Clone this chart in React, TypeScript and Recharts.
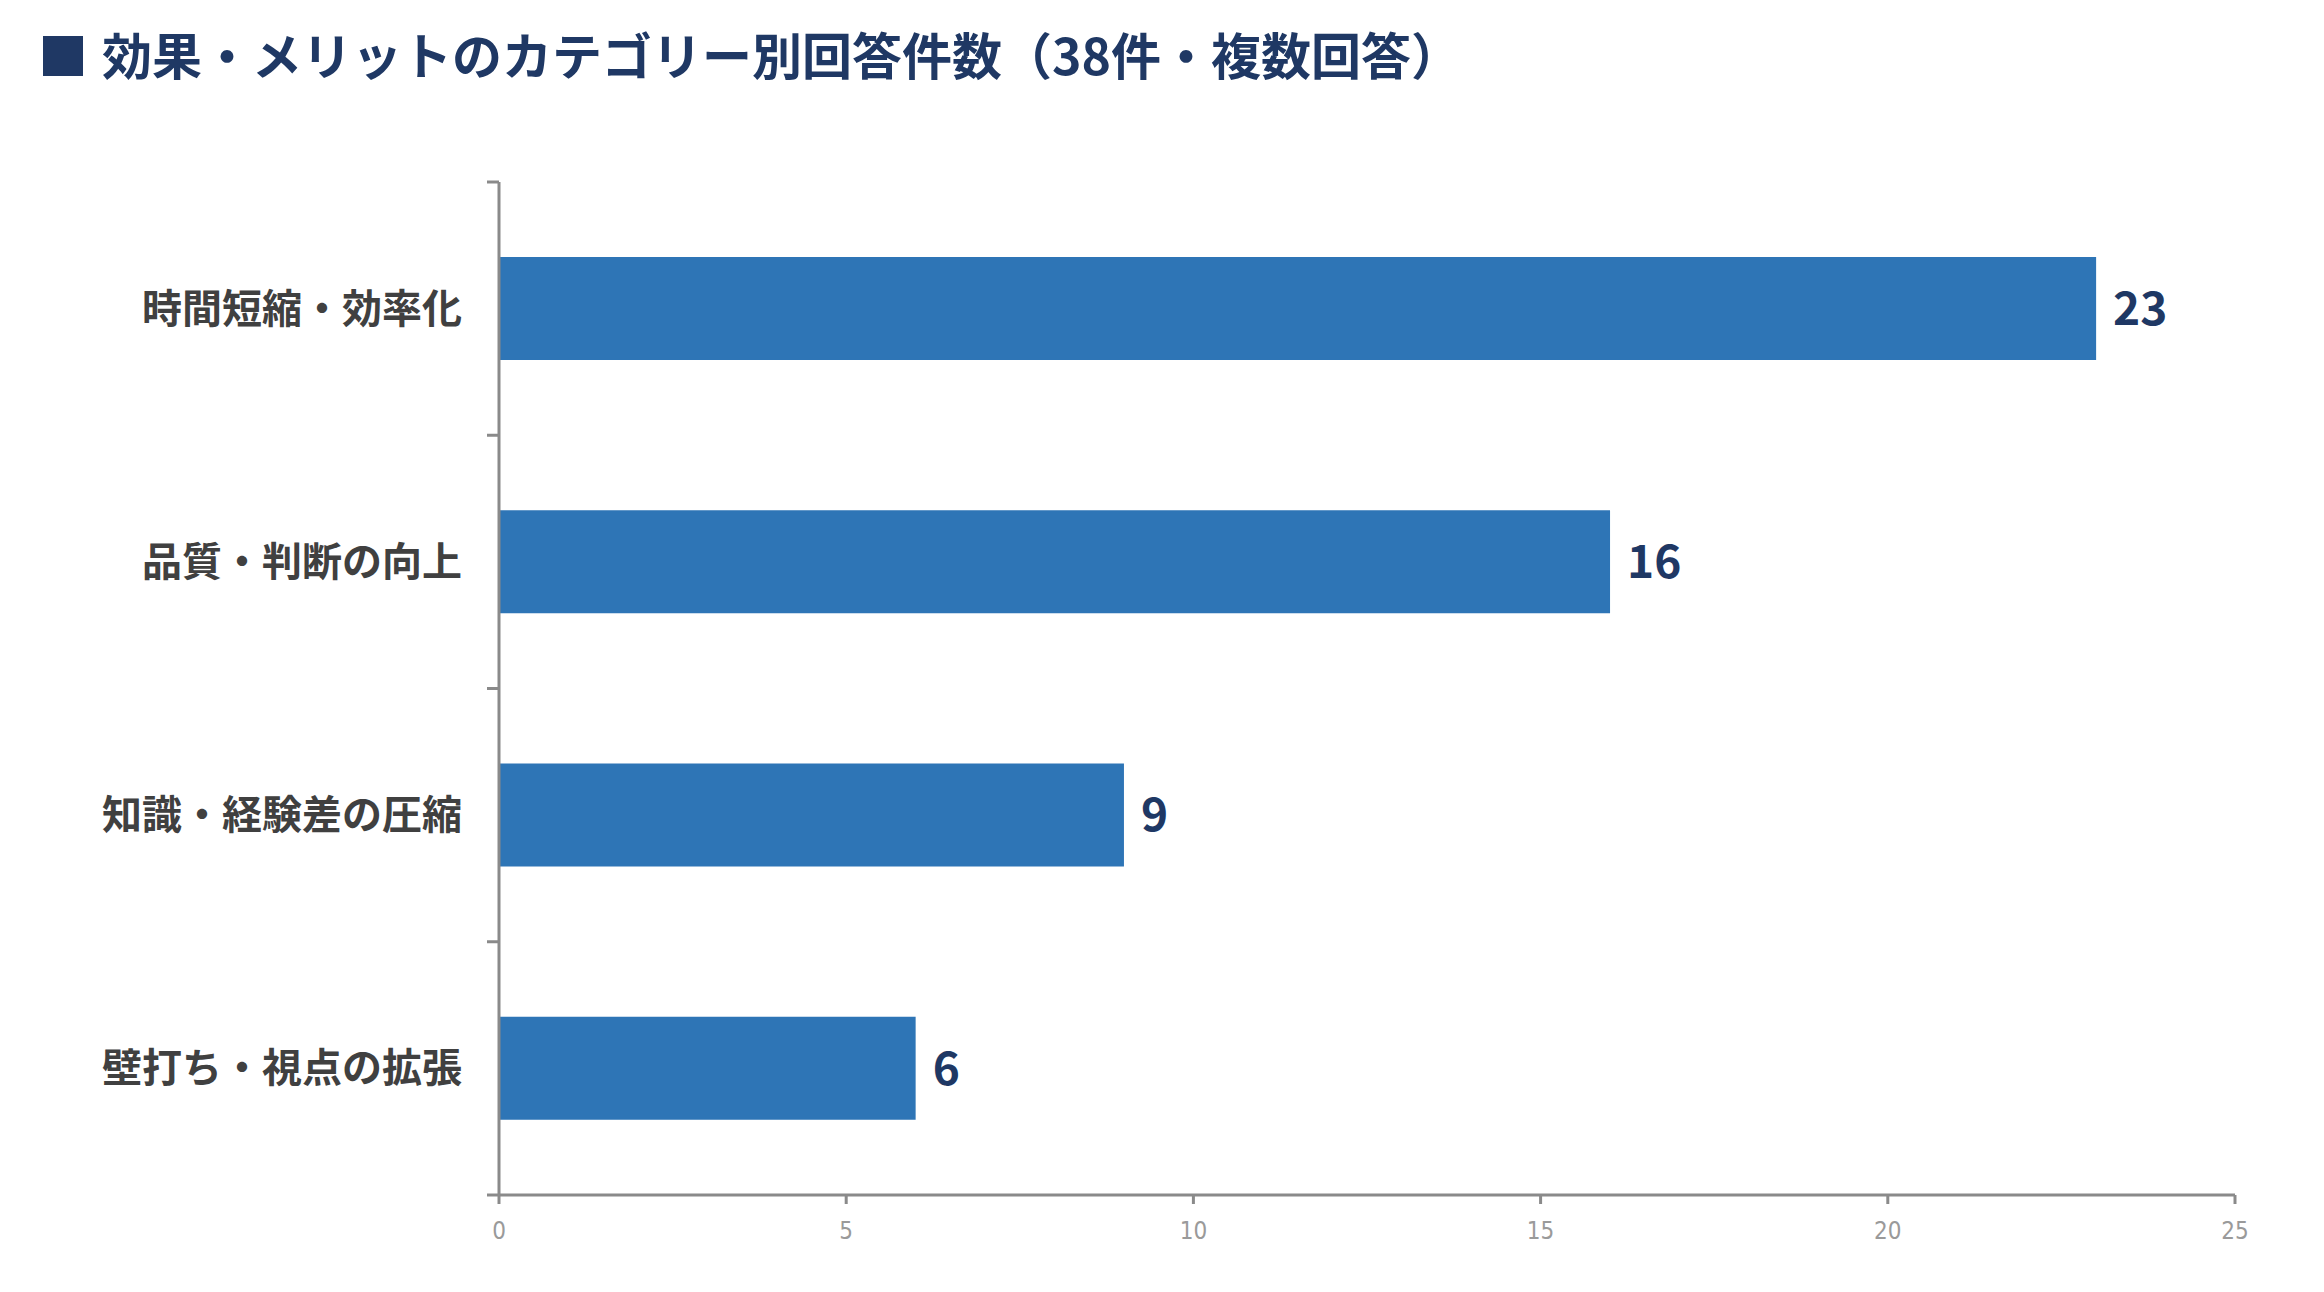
import React from 'react';
import { BarChart, Bar, XAxis, YAxis, LabelList } from 'recharts';

const categories = ['時間短縮・効率化', '品質・判断の向上', '知識・経験差の圧縮', '壁打ち・視点の拡張'];
const counts = [23, 16, 9, 6];
const xTicks = [0, 5, 10, 15, 20, 25];
const titleText = '効果・メリットのカテゴリー別回答件数（38件・複数回答）';

const data = categories.map((name, i) => ({ name, value: counts[i] }));

const W = 2324;
const H = 1292;
const MARGIN = { top: 182, right: 89, bottom: 0, left: 0 };
const Y_AXIS_W = 499;
const X_AXIS_H = 97;
const PLOT_H = H - MARGIN.top - MARGIN.bottom - X_AXIS_H;
const BAND = PLOT_H / categories.length;
const Y_TICK_LEN = 12;
const Y_TICK_MARGIN = 25;
const AXIS_COLOR = '#8a8a8a';
const FONT = "'Noto Sans CJK JP', 'Noto Sans', sans-serif";

function YTick(props: any) {
  const { x, y, payload } = props;
  const axisX = x + Y_TICK_MARGIN + Y_TICK_LEN;
  const isLast = payload.value === categories[categories.length - 1];
  return (
    <g>
      <line x1={axisX - Y_TICK_LEN} x2={axisX} y1={y - BAND / 2} y2={y - BAND / 2} stroke={AXIS_COLOR} strokeWidth={3} />
      {isLast && (
        <line x1={axisX - Y_TICK_LEN} x2={axisX} y1={y + BAND / 2} y2={y + BAND / 2} stroke={AXIS_COLOR} strokeWidth={3} />
      )}
      <text x={x} y={y} dy="0.35em" textAnchor="end" fontSize={40} fontWeight={700} fill="#404040" fontFamily={FONT}>
        {payload.value}
      </text>
    </g>
  );
}

export default function App() {
  return (
    <div style={{ position: 'absolute', left: 0, top: 0, width: W, height: H, background: '#fff', overflow: 'hidden' }}>
      <div
        style={{
          position: 'absolute',
          left: 38,
          top: 28,
          whiteSpace: 'nowrap',
          fontFamily: FONT,
          fontWeight: 700,
          fontSize: 50,
          lineHeight: '50px',
          color: '#1f3864',
        }}
      >
        <span>■</span>
        <span style={{ marginLeft: 14 }}>{titleText}</span>
      </div>
      <BarChart width={W} height={H} data={data} layout="vertical" margin={MARGIN}>
        <XAxis
          type="number"
          domain={[0, 25]}
          ticks={xTicks}
          height={X_AXIS_H}
          axisLine={{ stroke: AXIS_COLOR, strokeWidth: 3 }}
          tickLine={{ stroke: AXIS_COLOR, strokeWidth: 3 }}
          tickSize={9}
          tickMargin={18}
          tick={{ fill: '#9a9a9a', fontSize: 24, fontFamily: "'Liberation Sans Narrow', 'DejaVu Sans Condensed', sans-serif", fontStretch: 'condensed' }}
        />
        <YAxis
          type="category"
          dataKey="name"
          width={Y_AXIS_W}
          axisLine={{ stroke: AXIS_COLOR, strokeWidth: 3 }}
          tickLine={false}
          tickSize={Y_TICK_LEN}
          tickMargin={Y_TICK_MARGIN}
          tick={<YTick />}
          interval={0}
        />
        <Bar dataKey="value" fill="#2e75b6" barSize={103} isAnimationActive={false}>
          <LabelList
            dataKey="value"
            position="right"
            offset={17}
            fill="#1f3864"
            fontSize={46}
            fontWeight={700}
            fontFamily={FONT}
          />
        </Bar>
      </BarChart>
    </div>
  );
}
